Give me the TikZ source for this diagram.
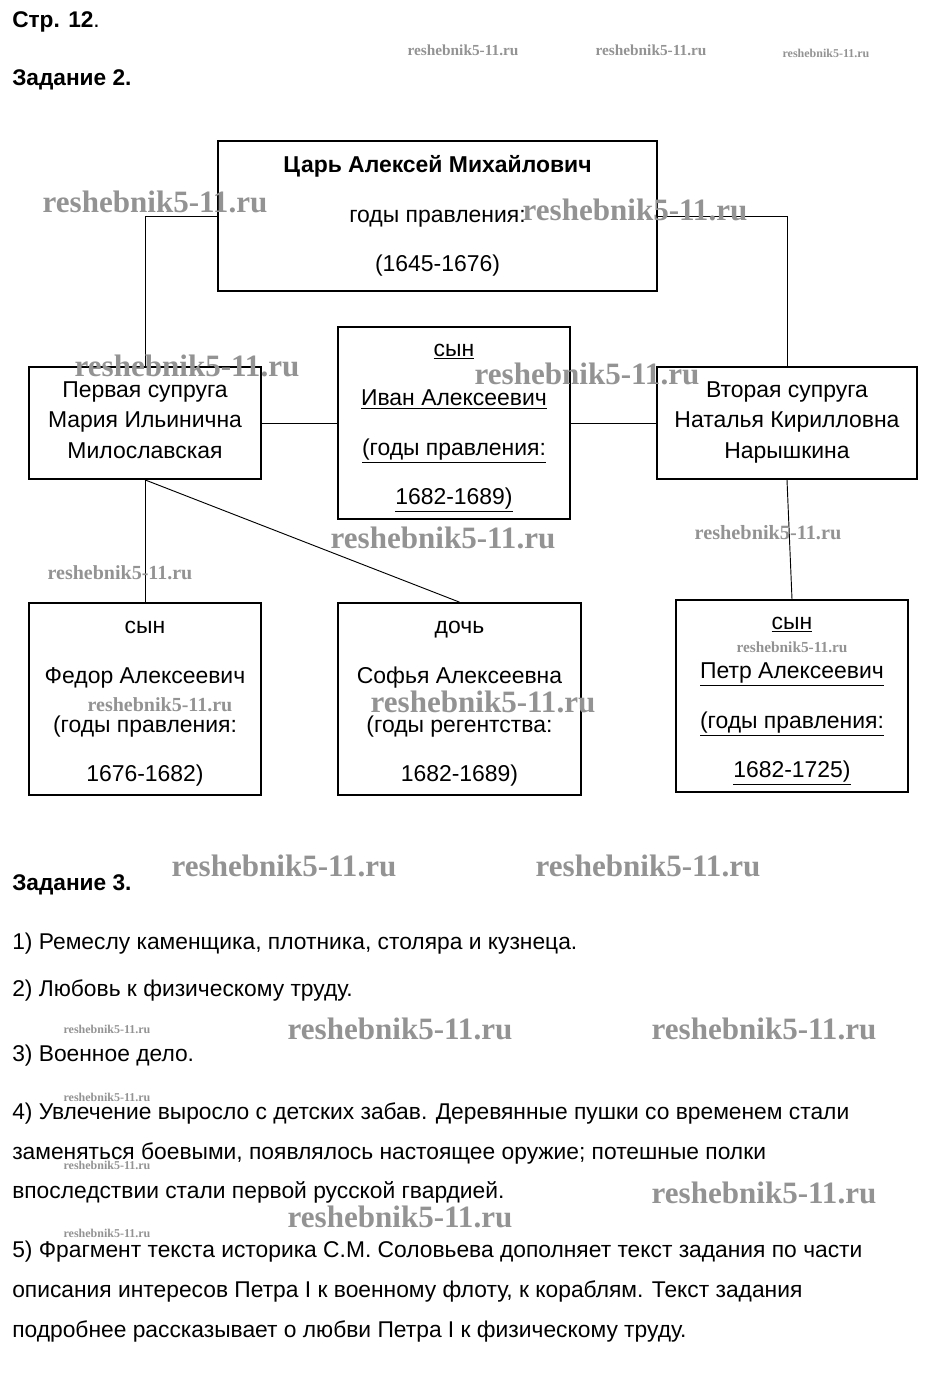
\documentclass[tikz,border=0pt]{standalone}
\usepackage{fontspec}
\setmainfont{Liberation Sans}
\newfontfamily\wmfont{Liberation Serif}
\newcommand{\topgap}{\rule{0pt}{17pt}}
\newcommand{\botgap}{\rule[-4.5pt]{0pt}{4.5pt}}

\begin{document}
\begin{tikzpicture}[x=0.75pt,y=-0.75pt,
  base/.style={draw,line width=1.3pt,align=center,inner sep=0pt,font=\fontsize{17.2}{37}\selectfont},
  box/.style={base,minimum width=174pt,minimum height=144pt},
  wife/.style={base,minimum width=174pt,minimum height=84pt,font=\fontsize{17.2}{23}\selectfont},
  link/.style={line width=0.7pt},
  head/.style={anchor=base west,inner sep=0pt,font=\bfseries\fontsize{17}{19}\selectfont},
  answer/.style={anchor=base west,inner sep=0pt,font=\fontsize{17.1}{20}\selectfont},
  wm/.style={inner sep=0pt,text=gray!85,font=\wmfont\bfseries\fontsize{#1}{#1}\selectfont}]
  \useasboundingbox (0,0) rectangle (925,1386);
  % headings
  \node[head] (page) at (12,27) {Стр. 12\textmd{.}};
  \node[head] (task2) at (12,85) {Задание 2.};
  % family tree
  \node[base,minimum width=329.25pt,minimum height=112.5pt] (tsar) at (437.5,216)
    {\textbf{Царь Алексей Михайлович}\\годы правления:\\(1645-1676)};
  \node[wife] (wife1) at (145,423) {Первая супруга\\Мария Ильинична\\Милославская\botgap};
  \node[box] (ivan) at (454,423)
    {\topgap\underline{сын}\\\underline{Иван Алексеевич}\\\underline{(годы правления:}\\\underline{1682-1689)}};
  \node[wife,minimum width=195pt] (wife2) at (787,423) {Вторая супруга\\Наталья Кирилловна\\Нарышкина\botgap};
  \node[box] (fedor) at (145,699) {\topgap сын\\Федор Алексеевич\\(годы правления:\\1676-1682)};
  \node[box,minimum width=182.25pt] (sofya) at (459.5,699) {\topgap дочь\\Софья Алексеевна\\(годы регентства:\\1682-1689)};
  \node[box] (peter) at (792,696)
    {\topgap\underline{сын}\\\underline{Петр Алексеевич}\\\underline{(годы правления:}\\\underline{1682-1725)}};
  \draw[link] (tsar.west) -| (wife1.north);
  \draw[link] (tsar.east) -| (wife2.north);
  \draw[link] (wife1.east) -- (ivan.west);
  \draw[link] (ivan.east) -- (wife2.west);
  \draw[link] (wife1.south) -- (fedor.north);
  \draw[link] (wife1.south) -- (sofya.north);
  \draw[link] (wife2.south) -- (peter.north);
  % task 3
  \node[head] (task3) at (12,890) {Задание 3.};
  \node[answer] (a1) at (12,949) {1) Ремеслу каменщика, плотника, столяра и кузнеца.};
  \node[answer] (a2) at (12,996) {2) Любовь к физическому труду.};
  \node[answer] (a3) at (12,1061) {3) Военное дело.};
  \node[answer] (a4) at (12,1119) {4) Увлечение выросло с детских забав. Деревянные пушки со временем стали};
  \node[answer] (a4b) at (12,1159) {заменяться боевыми, появлялось настоящее оружие; потешные полки};
  \node[answer] (a4c) at (12,1198) {впоследствии стали первой русской гвардией.};
  \node[answer] (a5) at (12,1257) {5) Фрагмент текста историка С.М. Соловьева дополняет текст задания по части};
  \node[answer] (a5b) at (12,1297) {описания интересов Петра I к военному флоту, к кораблям. Текст задания};
  \node[answer] (a5c) at (12,1337) {подробнее рассказывает о любви Петра I к физическому труду.};
  % watermarks
  \foreach \x/\y/\s [count=\i] in {463/50/11.5,651/50/11.5,826/53/9,155/202/23.3,635/210/23.3,
      187/366/23.3,587/374/23.3,443/538/23.3,768/533/15.2,120/573/15,792/647/11.5,160/705/15,
      483/702/23.3,284/866/23.3,648/866/23.3,107/1029/9,400/1029/23.3,764/1029/23.3,107/1097/9,
      107/1165/9,764/1193/23.3,400/1217/23.3,107/1233/9}
    \node[wm=\s] (wm\i) at (\x,\y) {reshebnik5-11.ru};
\end{tikzpicture}
\end{document}
